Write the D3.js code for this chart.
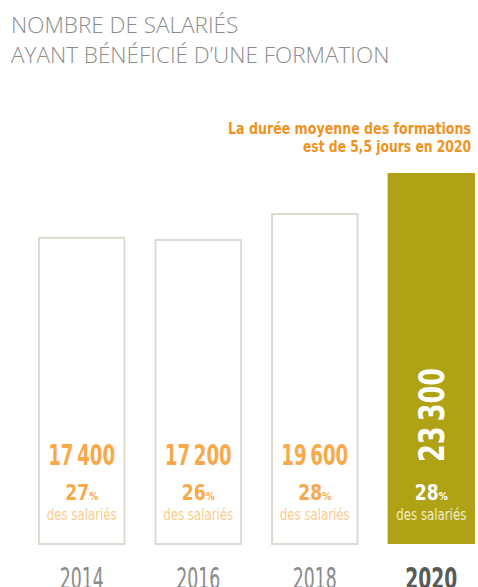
<!DOCTYPE html>
<html>
<head>
<meta charset="utf-8">
<script src="https://cdn.jsdelivr.net/npm/d3@7"></script>
<style>
  body { margin: 0; background: #fff; }
  svg { display: block; }
</style>
</head>
<body>
<script>
const WIDTH = 478;
const HEIGHT = 587;
const BASE_Y = 544;
const TOP_Y = 173;
const NARROW = '"DejaVu Sans Condensed", "Liberation Sans Narrow", sans-serif';

var years = ['2014', '2016', '2018', '2020'];
var employees = [17400, 17200, 19600, 23300];
var shares = [27, 26, 28, 28];
var titleLines = ['NOMBRE DE SALARIÉS', 'AYANT BÉNÉFICIÉ D\u2019UNE FORMATION'];
var noteLines = ['La durée moyenne des formations', 'est de 5,5 jours en 2020'];

var fmt = function(v){
	var s = String(v);
	return s.slice(0, s.length - 3) + '\u2009' + s.slice(-3);
}

// squeeze a text to a width, the source uses a condensed face we don't have
var squeeze = function(sel, w){
	sel.attr('textLength', w).attr('lengthAdjust', 'spacingAndGlyphs');
}

var svg = d3.select('body')
	.append('svg')
	.attr('width', WIDTH)
	.attr('height', HEIGHT);

// title
svg.append('g').selectAll('text')
	.data(titleLines)
	.enter()
	.append('text')
	.attr('x', 11)
	.attr('y', function(d, i){ return 33 + i*30; })
	.style('font-family', '"Open Sans", sans-serif')
	.style('font-weight', 300)
	.style('font-size', '22.5px')
	.style('fill', '#8c8c8c')
	.text(function(d){ return d; });

// note
svg.append('g').selectAll('text')
	.data(noteLines)
	.enter()
	.append('text')
	.attr('x', 471)
	.attr('y', function(d, i){ return 134 + i*18; })
	.attr('text-anchor', 'end')
	.style('font-family', NARROW)
	.style('font-weight', 700)
	.style('font-size', '16px')
	.style('fill', '#f0921e')
	.text(function(d){ return d; })
	.each(function(d, i){ squeeze(d3.select(this), i === 0 ? 243 : 168); });

var x = d3.scaleBand()
	.domain(years)
	.range([38, 475])
	.paddingInner(0.25)
	.paddingOuter(0);

// bars don't start at zero in the original, the baseline is pushed down
var y = d3.scaleLinear()
	.domain([-11000, d3.max(employees)])
	.range([BASE_Y, TOP_Y]);

var data = years.map(function(yr, i){
	return {year: yr, value: employees[i], share: shares[i], last: i === years.length - 1};
});

var bars = svg.append('g').selectAll('g')
	.data(data)
	.enter()
	.append('g')
	.attr('transform', function(d){ return 'translate(' + x(d.year) + ',0)'; });

bars.append('rect')
	.attr('x', function(d){ return d.last ? 0 : 1; })
	.attr('y', function(d){ return y(d.value) + (d.last ? 0 : 1); })
	.attr('width', function(d){ return d.last ? x.bandwidth() : x.bandwidth() - 2; })
	.attr('height', function(d){ return BASE_Y - y(d.value) - (d.last ? 0 : 1); })
	.style('fill', function(d){ return d.last ? '#b0a215' : '#fff'; })
	.style('stroke', function(d){ return d.last ? 'none' : '#dedad0'; })
	.style('stroke-width', 2);

var cx = x.bandwidth() / 2;

// big value
bars.filter(function(d){ return !d.last; })
	.append('text')
	.attr('x', cx)
	.attr('y', 465)
	.attr('text-anchor', 'middle')
	.style('font-family', NARROW)
	.style('font-weight', 700)
	.style('font-size', '28px')
	.style('fill', '#f9a94a')
	.text(function(d){ return fmt(d.value); })
	.call(squeeze, 67);

bars.filter(function(d){ return d.last; })
	.append('text')
	.attr('transform', 'translate(' + (cx + 12.5) + ',415) rotate(-90)')
	.attr('text-anchor', 'middle')
	.style('font-family', NARROW)
	.style('font-weight', 700)
	.style('font-size', '36px')
	.style('fill', '#fff')
	.text(function(d){ return fmt(d.value); })
	.call(squeeze, 94);

// share
var share = bars.append('text')
	.attr('x', cx)
	.attr('y', 500)
	.attr('text-anchor', 'middle')
	.style('font-family', NARROW)
	.style('font-weight', 700)
	.style('fill', function(d){ return d.last ? '#fff' : '#f9a94a'; });
share.append('tspan').style('font-size', '21px').text(function(d){ return d.share; });
share.append('tspan').style('font-size', '11px').text('%');
share.call(squeeze, 33);

bars.append('text')
	.attr('x', cx)
	.attr('y', 520)
	.attr('text-anchor', 'middle')
	.style('font-family', NARROW)
	.style('font-size', '16px')
	.style('fill', function(d){ return d.last ? '#f1ecc8' : '#fbcb8c'; })
	.text('des salariés')
	.call(squeeze, 70);

// years
bars.append('text')
	.attr('x', cx)
	.attr('y', 589)
	.attr('text-anchor', 'middle')
	.style('font-family', NARROW)
	.style('font-weight', function(d){ return d.last ? 700 : 400; })
	.style('font-size', '30px')
	.style('fill', function(d){ return d.last ? '#5a5a5a' : '#8a8a8a'; })
	.text(function(d){ return d.year; })
	.each(function(d){ squeeze(d3.select(this), d.last ? 52 : 44); });
</script>
</body>
</html>
